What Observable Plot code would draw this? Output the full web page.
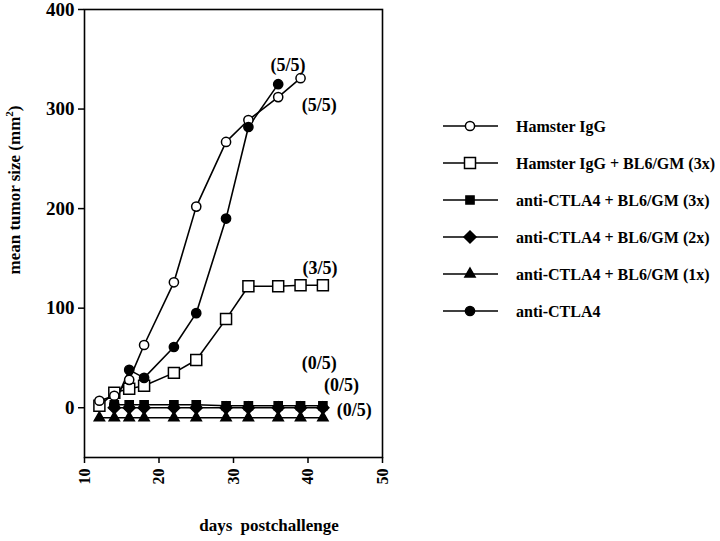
<!DOCTYPE html>
<html><head><meta charset="utf-8">
<script src="https://cdn.jsdelivr.net/npm/d3@7"></script>
<script src="https://cdn.jsdelivr.net/npm/@observablehq/plot@0.6"></script>
<style>body{margin:0;background:#fff} svg{display:block}</style>
</head><body><div id="chart"></div>
<script>
// ---- data ----
const seriesNames = [
  "Hamster IgG",
  "Hamster IgG + BL6/GM (3x)",
  "anti-CTLA4 + BL6/GM (3x)",
  "anti-CTLA4 + BL6/GM (2x)",
  "anti-CTLA4 + BL6/GM (1x)",
  "anti-CTLA4"
];
const daysHamsterIgG = [12,14,16,18,22,25,29,32,36,39];
const valHamsterIgG  = [7,12,28,63,126,202,267,289,312,331];
const daysHamsterGM3 = [12,14,16,18,22,25,29,32,36,39,42];
const valHamsterGM3  = [2,15,19,22,35,48,89,122,122,123,123];
const daysAntiGM3 = [14,16,18,22,25,29,32,36,39,42];
const valAntiGM3  = [3,3,3,3,3,2,2,2,2,2];
const daysAntiGM2 = [14,16,18,22,25,29,32,36,39,42];
const valAntiGM2  = [0,0,0,0,0,0,0,0,0,0];
const daysAntiGM1 = [12,14,16,18,22,25,29,32,36,39,42];
const valAntiGM1  = [-10,-10,-10,-10,-10,-10,-10,-10,-10,-10,-10];
const daysAnti = [14,16,18,22,25,29,32,36];
const valAnti  = [3,38,30,61,95,190,282,325];

const annoText = ["(5/5)","(5/5)","(3/5)","(0/5)","(0/5)","(0/5)"];
const annoDay  = [37.3,41.5,41.6,41.5,44.5,46.2];
const annoVal  = [344,304,140,44.6,23,-3];

const xTicks = [10,20,30,40,50];
const yTicks = [0,100,200,300,400];

// ---- styles per series (appearance only) ----
const styles = [
  {symbol: d3.symbolCircle,   fill: "white", r: 4.6},
  {symbol: d3.symbolSquare,   fill: "white", r: 6.2},
  {symbol: d3.symbolSquare,   fill: "black", r: 4.6},
  {symbol: d3.symbolDiamond2, fill: "black", r: 5.4},
  {symbol: d3.symbolTriangle, fill: "black", r: 3.8},
  {symbol: d3.symbolCircle,   fill: "black", r: 4.6}
];
const seriesData = [
  [daysHamsterIgG, valHamsterIgG],
  [daysHamsterGM3, valHamsterGM3],
  [daysAntiGM3, valAntiGM3],
  [daysAntiGM2, valAntiGM2],
  [daysAntiGM1, valAntiGM1],
  [daysAnti, valAnti]
].map(([d, v], i) => d.map((day, j) => ({series: seriesNames[i], day, value: v[j]})));

const annos = annoText.map((t, i) => ({t, day: annoDay[i], value: annoVal[i]}));

const FONT = "Liberation Serif, Times New Roman, serif";
const drawOrder = [4, 3, 2, 1, 0, 5];

const marks = [];
for (const i of drawOrder) {
  marks.push(Plot.line(seriesData[i], {x: "day", y: "value", stroke: "black", strokeWidth: 1.6}));
}
for (const i of drawOrder) {
  const s = styles[i];
  marks.push(Plot.dot(seriesData[i], {x: "day", y: "value", symbol: s.symbol, r: s.r,
    fill: s.fill, stroke: "black", strokeWidth: 1.5}));
}

const svg = Plot.plot({
  width: 720, height: 541,
  marginLeft: 84, marginRight: 338, marginTop: 9, marginBottom: 84,
  style: {fontFamily: FONT, fontWeight: "bold", color: "black", background: "white"},
  x: {domain: [10, 50]},
  y: {domain: [-50, 400]},
  marks: [
    Plot.frame({stroke: "black", strokeWidth: 1.6}),
    Plot.axisY({ticks: yTicks, tickSize: 6, tickPadding: 4, fontSize: 19, label: null, strokeWidth: 1.5}),
    Plot.axisX({ticks: xTicks, tickSize: 6, tickPadding: 5, tickRotate: -90, fontSize: 16, label: null, strokeWidth: 1.5}),
    ...marks,
    Plot.text(annos, {x: "day", y: "value", text: "t", fontSize: 18, fontWeight: "bold", fill: "black", textAnchor: "middle", lineAnchor: "middle"})
  ]
});

const g = d3.select(svg);
// axis titles
g.append("text")
  .attr("transform", "translate(20,190) rotate(-90)")
  .attr("text-anchor", "middle")
  .attr("font-size", 17).attr("font-weight", "bold").attr("font-family", FONT)
  .attr("fill", "black")
  .call(t => {
    t.append("tspan").text("mean tumor size (mm");
    t.append("tspan").text("2").attr("font-size", 11).attr("dy", -7);
    t.append("tspan").text(")").attr("dy", 7);
  });
g.append("text")
  .attr("x", 269).attr("y", 531)
  .attr("text-anchor", "middle")
  .attr("font-size", 17).attr("font-weight", "bold").attr("font-family", FONT)
  .attr("fill", "black").attr("word-spacing", 4)
  .text("days postchallenge");

// legend
const lg = g.append("g").attr("transform", "translate(443,126)");
seriesNames.forEach((name, i) => {
  const row = lg.append("g").attr("transform", `translate(0,${i * 37})`);
  row.append("line").attr("x1", 0).attr("x2", 55).attr("y1", 0).attr("y2", 0)
    .attr("stroke", "black").attr("stroke-width", 1.6);
  const s = styles[i];
  row.append("path").attr("transform", "translate(27,0)")
    .attr("d", d3.symbol().type(s.symbol).size(Math.PI * s.r * s.r)())
    .attr("fill", s.fill).attr("stroke", "black").attr("stroke-width", 1.5);
  row.append("text").attr("x", 73).attr("y", 0).attr("dy", "0.35em")
    .attr("text-anchor", "start")
    .attr("font-size", 16).attr("font-weight", "bold").attr("font-family", FONT)
    .attr("fill", "black").text(name);
});

document.getElementById("chart").appendChild(svg);
</script>
</body></html>
